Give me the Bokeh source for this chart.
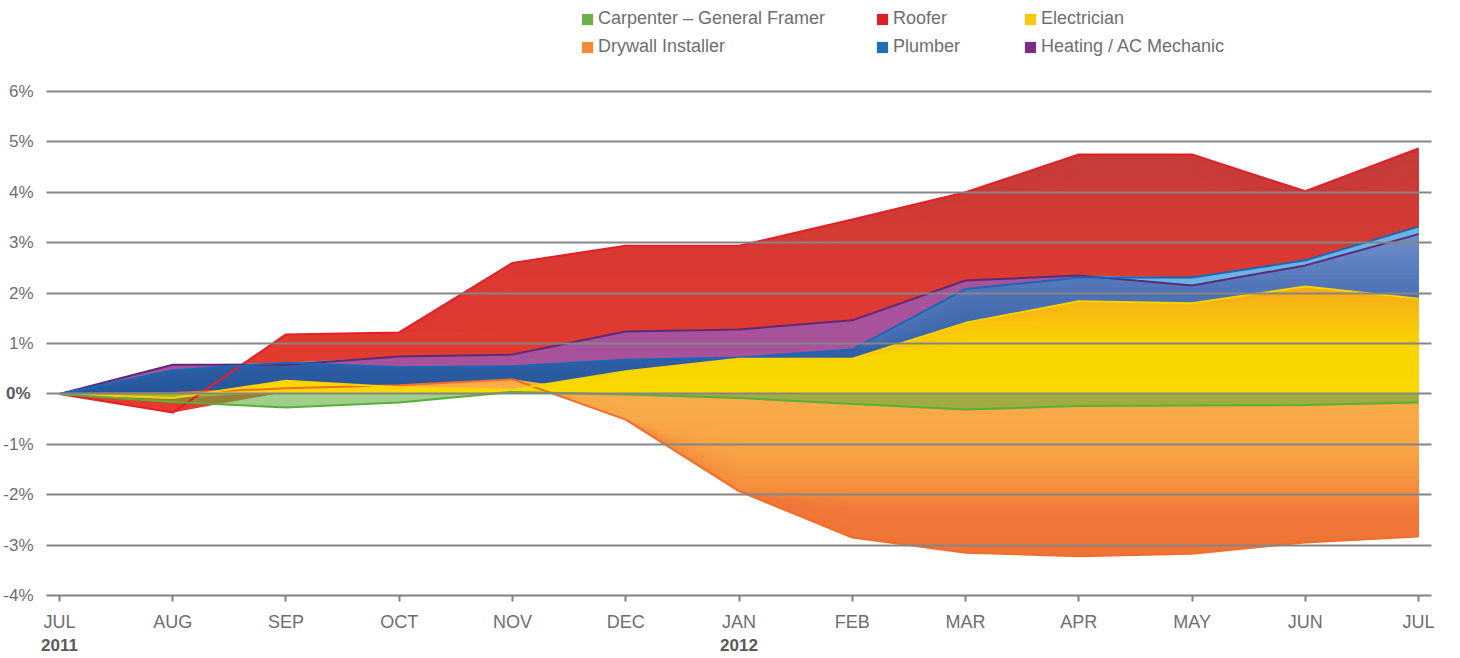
import numpy as np
from bokeh.plotting import figure
from bokeh.models import Range1d, FixedTicker, LinearAxis, Legend, LegendItem
from bokeh.embed import file_html
from bokeh.resources import INLINE

# ---------------- data (percent change since JUL 2011) ----------------
months = ["JUL", "AUG", "SEP", "OCT", "NOV", "DEC", "JAN", "FEB", "MAR", "APR", "MAY", "JUN", "JUL"]
year_labels = {0: "2011", 6: "2012"}
y_ticks = [-4, -3, -2, -1, 0, 1, 2, 3, 4, 5, 6]

carpenter = [0, -0.16, -0.27, -0.17, 0.04, -0.01, -0.08, -0.20, -0.31, -0.24, -0.23, -0.22, -0.17]
drywall = [0, 0.02, 0.11, 0.17, 0.29, -0.51, -1.93, -2.85, -3.15, -3.22, -3.17, -2.95, -2.83]
roofer = [0, -0.37, 1.18, 1.22, 2.60, 2.94, 2.94, 3.46, 4.00, 4.75, 4.75, 4.02, 4.87]
plumber = [0, 0.47, 0.62, 0.53, 0.55, 0.68, 0.72, 0.88, 2.08, 2.31, 2.31, 2.65, 3.32]
electrician = [0, -0.08, 0.26, 0.13, 0.09, 0.45, 0.70, 0.70, 1.41, 1.84, 1.80, 2.13, 1.89]
heating = [0, 0.58, 0.58, 0.74, 0.78, 1.24, 1.28, 1.46, 2.25, 2.35, 2.15, 2.55, 3.17]

x = np.arange(len(months))

GRAY = "#6d6e71"
FONT = "Liberation Sans"

p = figure(width=1444, height=658, output_backend="svg", toolbar_location=None,
           x_range=Range1d(-0.114, len(months) - 1 + 0.114),
           y_range=Range1d(-4, 7.806),
           min_border_left=38, min_border_right=13, min_border_top=0, min_border_bottom=63)
p.outline_line_color = None
p.background_fill_color = "white"
p.border_fill_color = "white"


def _hex(c):
    c = c.lstrip("#")
    return np.array([int(c[i:i + 2], 16) for i in (0, 2, 4)], dtype=float)


def _colour_at(stops, level):
    levs = np.array([s[0] for s in stops], dtype=float)
    cols = np.array([_hex(s[1]) for s in stops])
    order = np.argsort(levs)
    levs, cols = levs[order], cols[order]
    rgb = [np.interp(level, levs, cols[:, k]) for k in range(3)]
    return "#%02x%02x%02x" % tuple(int(round(v)) for v in rgb)


def gradient_area(vals, stops, step=0.08, alpha=1.0):
    """Vertical colour gradient: full area, then nested areas clipped toward zero."""
    vals = np.asarray(vals, dtype=float)
    extreme = stops[-1][0]
    sign = 1 if extreme > 0 else -1
    p.varea(x=x, y1=0, y2=vals, fill_color=_colour_at(stops, extreme), fill_alpha=alpha)
    lev = extreme
    while abs(lev) > step / 2:
        lev = lev - sign * step
        clipped = np.minimum(vals, lev) if sign > 0 else np.maximum(vals, lev)
        p.varea(x=x, y1=0, y2=clipped, fill_color=_colour_at(stops, lev), fill_alpha=alpha)


# areas, back to front
gradient_area(roofer, [(0, "#e53b2e"), (2.5, "#db3a32"), (5.0, "#c43c3a")])
p.varea(x=x, y1=0, y2=heating, fill_color="#a9529c")
gradient_area(plumber, [(0, "#24559a"), (1.0, "#3462a8"), (2.0, "#4e72b6"), (3.4, "#6f91cc")])
# light sheen where the plumber band rises above the heating line
p.varea(x=x, y1=heating, y2=np.maximum(plumber, heating), fill_color="#6cb2e2")
gradient_area(drywall, [(0.3, "#f9ae4b"), (-1.2, "#f8a445"), (-2.0, "#f38b3d"),
                        (-2.4, "#f07838"), (-3.3, "#ef7336")])
gradient_area(electrician, [(0, "#f8d900"), (1.0, "#f8d400"), (1.5, "#f8c30c"), (2.2, "#f7a91a")])
p.varea(x=x, y1=0, y2=carpenter, fill_color="#62ad3c", fill_alpha=0.6)

# edge lines sit on top of every area
edges = [
    (roofer, "#e41f27"),
    (heating, "#5d2a7a"),
    (plumber, "#1768b5"),
    (drywall, "#f26d2a"),
    (electrician, "#fcd300"),
    (carpenter, "#5aae3a"),
]
for vals, col in edges:
    p.line(x=x, y=vals, line_color=col, line_width=2)

# legend proxies: a single-point area (draws nothing) that lends its colour to the legend
legend_colors = {
    "Carpenter – General Framer": "#6ab04c",
    "Roofer": "#dd1f2d",
    "Electrician": "#f9c80c",
    "Drywall Installer": "#f58a32",
    "Plumber": "#1f6db5",
    "Heating / AC Mechanic": "#7f2a86",
}
leg_r = {}
for name, col in legend_colors.items():
    leg_r[name] = p.varea(x=x[:1], y1=[0], y2=[0], fill_color=col)

columns = [
    (534, ["Carpenter – General Framer", "Drywall Installer"]),
    (829, ["Roofer", "Plumber"]),
    (977, ["Electrician", "Heating / AC Mechanic"]),
]
for xpos, names in columns:
    lg = Legend(items=[LegendItem(label=n, renderers=[leg_r[n]]) for n in names],
                location=(xpos, 538), orientation="vertical",
                glyph_width=14, glyph_height=14, label_standoff=4, spacing=7,
                padding=0, margin=0, label_height=20,
                border_line_color=None, background_fill_alpha=0,
                label_text_font=FONT, label_text_font_size="18px", label_text_color=GRAY)
    p.add_layout(lg, "center")

# ---------------- axes & grid ----------------
p.ygrid.ticker = FixedTicker(ticks=y_ticks)
p.ygrid.grid_line_color = "#858585"
p.ygrid.grid_line_width = 2
p.ygrid.level = "annotation"
p.xgrid.grid_line_color = None

yax = p.yaxis[0]
yax.ticker = FixedTicker(ticks=y_ticks)
yax.major_label_overrides = {t: ("" if t == 0 else f"{t}%") for t in y_ticks}
yax.axis_line_color = None
yax.major_tick_line_color = None
yax.minor_tick_line_color = None
yax.major_tick_in = 0
yax.major_tick_out = 0
yax.major_label_standoff = 13
yax.major_label_text_font = FONT
yax.major_label_text_font_size = "17px"
yax.major_label_text_color = GRAY

# bold "0%" on an outer axis whose label is pulled back in line with the others
zax = LinearAxis(ticker=FixedTicker(ticks=[0]), major_label_overrides={0: "0%"},
                 axis_line_color=None, major_tick_line_color=None, minor_tick_line_color=None,
                 major_tick_in=0, major_tick_out=0, major_label_standoff=-30,
                 major_label_text_font=FONT, major_label_text_font_size="17px",
                 major_label_text_font_style="bold", major_label_text_color="#58595b")
p.add_layout(zax, "left")

xax = p.xaxis[0]
xax.ticker = FixedTicker(ticks=list(x))
xax.major_label_overrides = {int(i): m for i, m in zip(x, months)}
xax.axis_line_color = "#808080"
xax.axis_line_width = 2
xax.major_tick_line_color = "#808080"
xax.major_tick_line_width = 2
xax.major_tick_in = 0
xax.major_tick_out = 6
xax.minor_tick_line_color = None
xax.major_label_standoff = 10
xax.major_label_text_font = FONT
xax.major_label_text_font_size = "18px"
xax.major_label_text_color = GRAY

yr = LinearAxis(ticker=FixedTicker(ticks=list(year_labels.keys())),
                major_label_overrides=year_labels,
                axis_line_color=None, major_tick_line_color=None, minor_tick_line_color=None,
                major_tick_in=0, major_tick_out=0, major_label_standoff=4,
                major_label_text_font=FONT, major_label_text_font_size="17px",
                major_label_text_font_style="bold", major_label_text_color="#58595b")
p.add_layout(yr, "below")

open("out.html", "w").write(file_html(p, INLINE))
